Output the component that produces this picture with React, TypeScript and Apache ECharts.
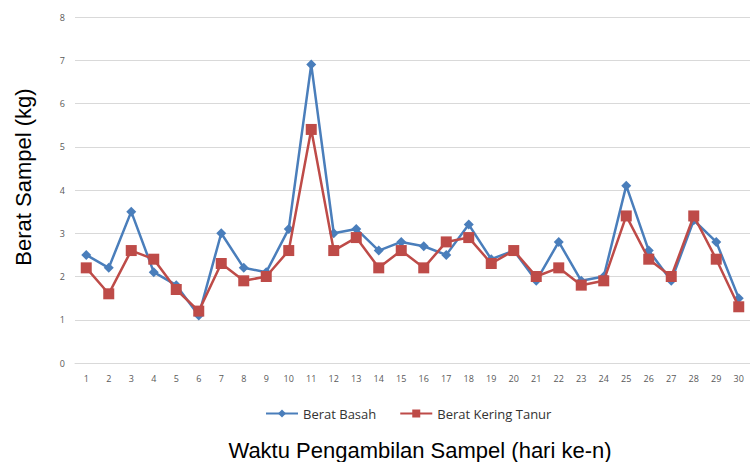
import React, { useEffect, useRef } from "react";
import * as echarts from "echarts";

const categories = Array.from({ length: 30 }, (_, i) => String(i + 1));
const beratBasah = [2.5, 2.2, 3.5, 2.1, 1.8, 1.1, 3.0, 2.2, 2.1, 3.1, 6.9, 3.0, 3.1, 2.6, 2.8, 2.7, 2.5, 3.2, 2.4, 2.6, 1.9, 2.8, 1.9, 2.0, 4.1, 2.6, 1.9, 3.3, 2.8, 1.5];
const beratKering = [2.2, 1.6, 2.6, 2.4, 1.7, 1.2, 2.3, 1.9, 2.0, 2.6, 5.4, 2.6, 2.9, 2.2, 2.6, 2.2, 2.8, 2.9, 2.3, 2.6, 2.0, 2.2, 1.8, 1.9, 3.4, 2.4, 2.0, 3.4, 2.4, 1.3];
const seriesNames = ["Berat Basah", "Berat Kering Tanur"];

export default function App() {
  const ref = useRef<HTMLDivElement>(null);
  useEffect(() => {
    if (!ref.current) return;
    const chart = echarts.init(ref.current, null, { renderer: "svg" });
    chart.setOption({
      animation: false,
      backgroundColor: "#ffffff",
      grid: { left: 75, top: 17, width: 678, height: 346 },
      legend: {
        data: seriesNames,
        left: 260,
        top: 402,
        itemGap: 23,
        itemWidth: 32,
        itemHeight: 10,
        textStyle: { fontFamily: "Open Sans", fontSize: 13, color: "#333" },
      },
      xAxis: {
        type: "category",
        data: categories,
        axisLine: { lineStyle: { color: "#d9d9d9" } },
        axisTick: { show: false },
        axisLabel: { color: "#595959", fontSize: 9, fontFamily: "Open Sans", margin: 11 },
      },
      yAxis: {
        type: "value",
        min: 0,
        max: 8,
        interval: 1,
        axisLine: { show: false },
        axisTick: { show: false },
        axisLabel: { color: "#595959", fontSize: 9, fontFamily: "Open Sans", margin: 10 },
        splitLine: { lineStyle: { color: "#d9d9d9", width: 1 } },
      },
      graphic: [
        {
          type: "text",
          x: 23,
          y: 177,
          rotation: Math.PI / 2,
          style: {
            text: "Berat Sampel (kg)",
            fontFamily: "Liberation Sans",
            fontSize: 22,
            fill: "#000",
            align: "center",
            verticalAlign: "middle",
          },
        },
        {
          type: "text",
          x: 420,
          y: 450,
          style: {
            text: "Waktu Pengambilan Sampel (hari ke-n)",
            fontFamily: "Liberation Sans",
            fontSize: 22,
            fill: "#000",
            align: "center",
            verticalAlign: "middle",
          },
        },
      ],
      series: [
        {
          name: seriesNames[0],
          type: "line",
          data: beratBasah,
          symbol: "diamond",
          symbolSize: 10,
          itemStyle: { color: "#4a7ebb" },
          lineStyle: { color: "#4a7ebb", width: 2.5 },
          z: 2,
        },
        {
          name: seriesNames[1],
          type: "line",
          data: beratKering,
          symbol: "rect",
          symbolSize: 11,
          itemStyle: { color: "#be4b48" },
          lineStyle: { color: "#be4b48", width: 2.5 },
          z: 3,
        },
      ],
    });
    return () => chart.dispose();
  }, []);
  return <div ref={ref} style={{ width: 750, height: 462, position: "absolute", left: 0, top: 0 }} />;
}
